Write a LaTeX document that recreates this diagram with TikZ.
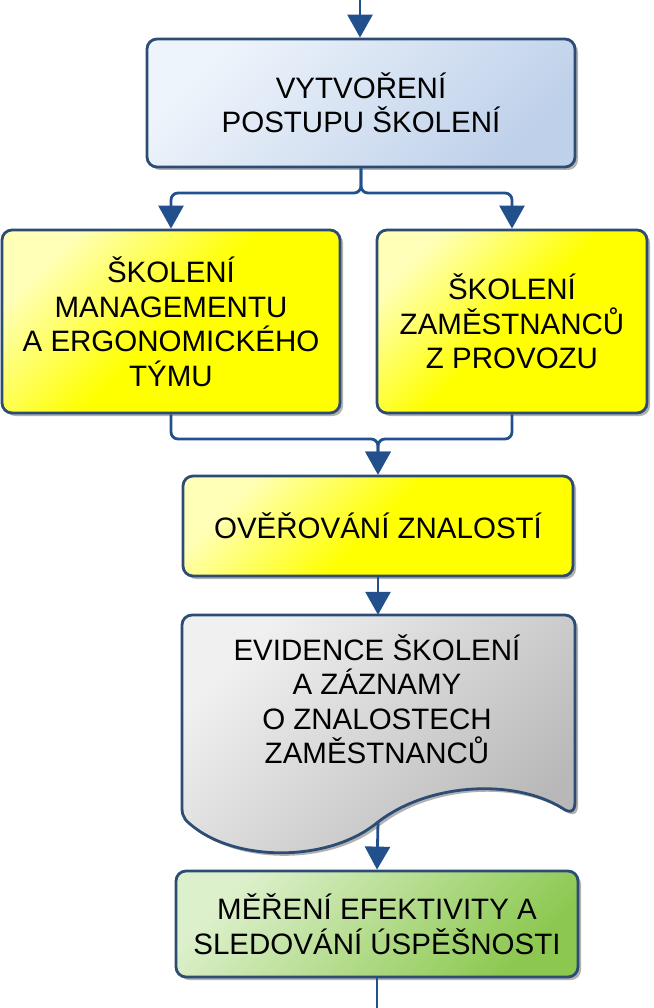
\documentclass[tikz,border=0pt]{standalone}
\usepackage{fontspec}
\setmainfont{Liberation Sans}
\usetikzlibrary{arrows.meta,shadows}
\definecolor{connc}{HTML}{22508C}
\definecolor{bordc}{HTML}{2C4C74}
\definecolor{blueL}{HTML}{EEF4FB}
\definecolor{blueD}{HTML}{BFD1EA}
\definecolor{yelL}{HTML}{FFFFB8}
\definecolor{yelD}{HTML}{FFFF00}
\definecolor{grayL}{HTML}{F0F0F0}
\definecolor{grayD}{HTML}{B8B8B8}
\definecolor{greenL}{HTML}{DDF0CC}
\definecolor{greenD}{HTML}{8CC850}
\newcommand\mydocpath{[rounded corners=10pt] (182,760) -- (182,615) -- (575,615) -- (575,760) [sharp corners] -- (575,802) .. controls (575,813) and (569,813) .. (562,808) .. controls (515,779) and (430,782) .. (378,822) .. controls (330,862) and (240,862) .. (195,828) .. controls (186,821) and (182,818) .. (182,808) -- cycle}
\begin{document}
\begin{tikzpicture}[x=1pt,y=-1pt,
  box/.style={draw=bordc, line width=2.8pt, rounded corners=10pt, align=center, inner sep=0pt,
    font=\fontsize{29.5}{34.5}\selectfont,
    drop shadow={shadow xshift=3pt, shadow yshift=-3pt, fill=black, opacity=0.3}},
  bluef/.style={top color=blueL, bottom color=blueD, shading angle=45},
  yelf/.style={top color=yelL, bottom color=yelD, middle color=yelD, shading angle=45},
  greenf/.style={top color=greenL, bottom color=greenD, shading angle=45},
  conn/.style={draw=connc, line width=2.8pt, rounded corners=7pt},
  arr/.style={-{Triangle[width=25pt,length=23pt]}},
  txt/.style={align=center, inner sep=0pt, font=\fontsize{29.5}{34.5}\selectfont}]
\useasboundingbox (0,0) rectangle (653,1008);

% boxes
\node[box, bluef, minimum width=428pt, minimum height=128pt] (top) at (361,103) {VYTVOŘENÍ\\POSTUPU ŠKOLENÍ};
\node[box, yelf, minimum width=338pt, minimum height=183pt] (skm) at (171,321.5) {ŠKOLENÍ\\MANAGEMENTU\\A ERGONOMICKÉHO\\TÝMU};
\node[box, yelf, minimum width=270pt, minimum height=183pt] (szp) at (512,321.5) {ŠKOLENÍ\\ZAMĚSTNANCŮ\\Z PROVOZU};
\node[box, yelf, minimum width=390pt, minimum height=100pt] (over) at (378,526) {OVĚŘOVÁNÍ ZNALOSTÍ};

% document shape
\fill[black, opacity=0.3, xshift=3pt, yshift=-3pt] \mydocpath;
\draw[draw=bordc, line width=2.8pt, top color=grayL, bottom color=grayD, shading angle=45] \mydocpath;
\node[minimum width=393pt, minimum height=197pt, inner sep=0pt] (evidbox) at (378.5,713.5) {};
\node[txt] (evid) at (377,699) {EVIDENCE ŠKOLENÍ\\A ZÁZNAMY\\O ZNALOSTECH\\ZAMĚSTNANCŮ};
\coordinate (evidb) at (378,822);

\node[box, greenf, minimum width=402pt, minimum height=106pt] (green) at (377,924) {MĚŘENÍ EFEKTIVITY A\\SLEDOVÁNÍ ÚSPĚŠNOSTI};

% connectors
\coordinate (inc) at (360,0);
\coordinate (outc) at (377,1008);
\draw[conn, arr] (inc) -- (inc |- top.north);
\draw[conn, arr] (top.south) -- (top.south |- 0,193) -| (skm.north);
\draw[conn, arr] (top.south) -- (top.south |- 0,193) -| (szp.north);
\draw[conn, arr] (skm.south) |- (over.north |- 0,439) -- (over.north);
\draw[conn, arr] (szp.south) |- (over.north |- 0,439) -- (over.north);
\draw[conn, arr] (over.south) -- (over.south |- evidbox.north);
\draw[conn, arr] (evidb) -- (green.north);
\draw[conn] (green.south) -- (outc);
\end{tikzpicture}
\end{document}
